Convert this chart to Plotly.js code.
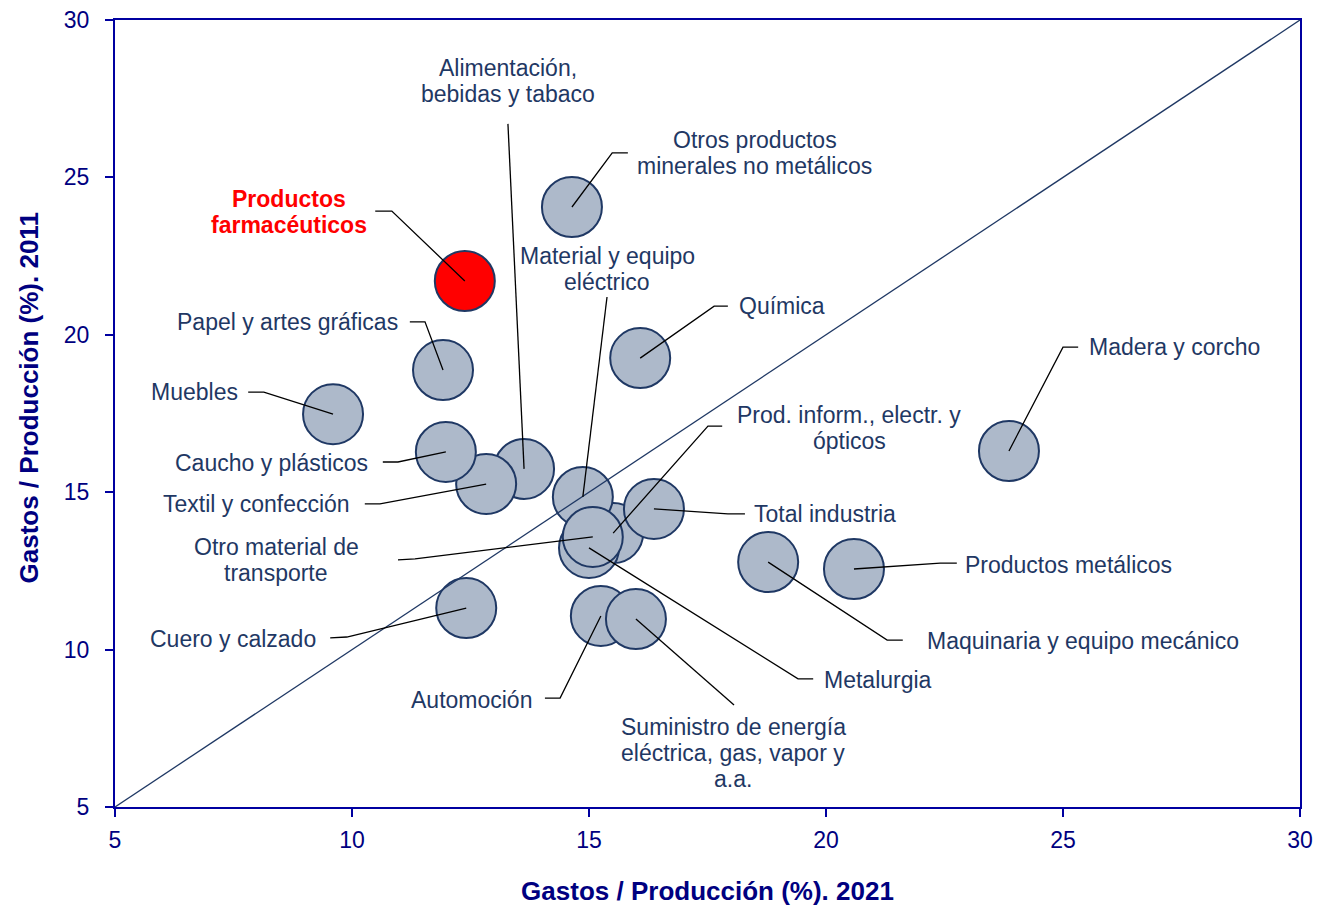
<!DOCTYPE html>
<html>
<head>
<meta charset="utf-8">
<script src="https://cdn.plot.ly/plotly-3.0.1.min.js"></script>
<style>html,body{margin:0;padding:0;background:#fff}#chart{width:1319px;height:906px}</style>
</head>
<body>
<div id="chart"></div>
<script>
// Sectors, in drawing order (later ones are drawn on top)
const sectors = [
  "Alimentación, bebidas y tabaco", "Textil y confección", "Caucho y plásticos",
  "Muebles", "Papel y artes gráficas", "Productos farmacéuticos",
  "Otros productos minerales no metálicos", "Química",
  "Prod. inform., electr. y ópticos", "Metalurgia", "Total industria",
  "Material y equipo eléctrico", "Otro material de transporte",
  "Madera y corcho", "Maquinaria y equipo mecánico", "Productos metálicos",
  "Cuero y calzado", "Automoción", "Suministro de energía eléctrica, gas, vapor y a.a."
];
// Gastos / Producción (%) 2021 (x) and 2011 (y)
const gastos2021 = [13.63, 12.83, 11.98, 9.60, 11.92, 12.38, 14.64, 16.08, 15.51, 15.00, 16.37, 14.87, 15.08, 23.86, 18.78, 20.59, 12.41, 15.25, 15.99];
const gastos2011 = [15.74, 15.26, 16.28, 17.48, 18.88, 21.71, 24.06, 19.26, 13.70, 13.23, 14.47, 14.85, 13.58, 16.31, 12.78, 12.56, 11.32, 11.07, 10.97];
const highlighted = "Productos farmacéuticos";

// Label texts (lines separated by <br>) and their placement in data units
const labelText = [
  "Alimentación,<br>bebidas y tabaco", "Textil y confección", "Caucho y plásticos",
  "Muebles", "Papel y artes gráficas", "Productos<br>farmacéuticos",
  "Otros productos<br>minerales no metálicos", "Química",
  "Prod. inform., electr. y<br>ópticos", "Metalurgia", "Total industria",
  "Material y equipo<br>eléctrico", "Otro material de<br>transporte",
  "Madera y corcho", "Maquinaria y equipo mecánico", "Productos metálicos",
  "Cuero y calzado", "Automoción", "Suministro de energía<br>eléctrica, gas, vapor y<br>a.a."
];
const labelX = [13.29, 10.00, 10.38, 7.64, 11.01, 8.67, 18.50, 18.12, 20.49, 19.92, 18.44, 15.38, 8.40, 25.50, 22.08, 22.89, 9.28, 13.84, 18.04];
const labelY = [28.06, 14.63, 15.93, 18.18, 20.41, 23.90, 25.78, 20.91, 17.04, 9.03, 14.31, 22.09, 12.85, 19.61, 10.27, 12.69, 10.34, 8.40, 6.72];
const labelAnchor = ["center", "right", "right", "right", "right", "center", "center", "left", "center", "left", "left", "center", "center", "left", "left", "left", "right", "right", "center"];
// Leader lines: end near the label, and the elbow point (null = straight)
const leadEndX = [13.29, 10.27, 10.65, 7.81, 11.22, 10.49, 15.82, 17.93, 17.81, 19.73, 18.29, 15.38, 10.97, 25.32, 21.62, 22.76, 9.54, 14.07, 18.06];
const leadEndY = [26.70, 14.63, 15.96, 18.18, 20.41, 23.93, 25.78, 20.91, 17.10, 9.07, 14.31, 21.20, 12.85, 19.61, 10.30, 12.75, 10.37, 8.46, 8.24];
const elbowX = [null, 10.59, 10.97, 8.14, 11.54, 10.84, 15.49, 17.64, 17.51, 19.41, 17.93, null, 11.33, 25.00, 21.29, 22.41, 9.89, 14.39, null];
const elbowY = [null, 14.63, 15.96, 18.18, 20.41, 23.93, 25.78, 20.91, 17.10, 9.07, 14.31, null, 12.88, 19.61, 10.30, 12.75, 10.40, 8.46, null];

const xTicks = [5, 10, 15, 20, 25, 30];
const yTicks = [5, 10, 15, 20, 25, 30];
const xTitle = "Gastos / Producción (%). 2021";
const yTitle = "Gastos / Producción (%). 2011";

const FONT = "Arial, 'Liberation Sans', sans-serif";
const navy = "#000080";
const axisBlue = "#0000A0";
const labelColor = "#1F3864";
const LINE_GAP = 26;

// Leader line trace
const lx = [], ly = [];
sectors.forEach((s, i) => {
  lx.push(gastos2021[i]); ly.push(gastos2011[i]);
  if (elbowX[i] !== null) { lx.push(elbowX[i]); ly.push(elbowY[i]); }
  lx.push(leadEndX[i]); ly.push(leadEndY[i]);
  lx.push(null); ly.push(null);
});

const bubbles = {
  type: "scatter", mode: "markers",
  x: gastos2021, y: gastos2011, text: sectors,
  hovertemplate: "%{text}<br>2021: %{x}<br>2011: %{y}<extra></extra>",
  marker: {
    size: 60,
    color: sectors.map(s => s === highlighted ? "#FF0000" : "#ADB9CA"),
    line: { color: "#1F3864", width: 2 }
  },
  showlegend: false
};
const diagonal = {
  type: "scatter", mode: "lines",
  x: [xTicks[0], xTicks[xTicks.length - 1]], y: [yTicks[0], yTicks[yTicks.length - 1]],
  line: { color: "#1F3864", width: 1.3 }, hoverinfo: "skip", showlegend: false
};
const leaders = {
  type: "scatter", mode: "lines", x: lx, y: ly, connectgaps: false,
  line: { color: "#000000", width: 1.3 }, hoverinfo: "skip", showlegend: false
};

const annotations = [];
sectors.forEach((s, i) => {
  const lines = labelText[i].split("<br>");
  const n = lines.length;
  lines.forEach((ln, k) => {
    annotations.push({
      x: labelX[i], y: labelY[i], xref: "x", yref: "y",
      yshift: ((n - 1) / 2 - k) * LINE_GAP,
      text: s === highlighted ? "<b>" + ln + "</b>" : ln,
      showarrow: false, xanchor: labelAnchor[i], yanchor: "middle", align: "center",
      font: { family: FONT, size: 23, color: s === highlighted ? "#FF0000" : labelColor }
    });
  });
});
// Y axis title (placed slightly above the axis middle, as in the original)
annotations.push({
  xref: "paper", yref: "paper", x: 0, y: 0.5, xshift: -87, yshift: 15,
  xanchor: "center", yanchor: "middle", textangle: -90, showarrow: false,
  text: "<b>" + yTitle + "</b>", font: { family: FONT, size: 26, color: navy }
});

const axisCommon = {
  showgrid: false, zeroline: false, showline: true, mirror: true,
  linecolor: axisBlue, linewidth: 2, ticks: "outside", ticklen: 8, tickwidth: 2,
  tickcolor: axisBlue, tickfont: { family: FONT, size: 23, color: navy }
};

const layout = {
  width: 1319, height: 906,
  margin: { l: 115, r: 19, t: 20, b: 99 },
  paper_bgcolor: "#fff", plot_bgcolor: "#fff",
  font: { family: FONT },
  xaxis: Object.assign({}, axisCommon, {
    range: [5, 30], tickvals: xTicks, ticklabelstandoff: 3,
    title: { text: "<b>" + xTitle + "</b>", font: { family: FONT, size: 26, color: navy }, standoff: 30 }
  }),
  yaxis: Object.assign({}, axisCommon, {
    range: [5, 30], tickvals: yTicks, ticklabelstandoff: 11
  }),
  annotations: annotations
};

Plotly.newPlot("chart", [bubbles, diagonal, leaders], layout, { displayModeBar: false });
</script>
</body>
</html>
